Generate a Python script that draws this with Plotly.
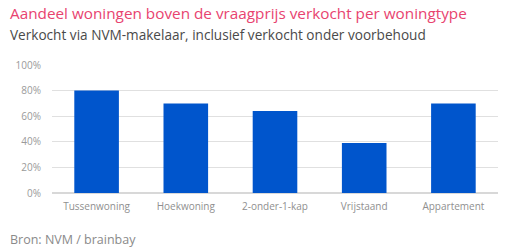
import plotly.graph_objects as go

categories = ["Tussenwoning", "Hoekwoning", "2-onder-1-kap", "Vrijstaand", "Appartement"]
values = [80, 70, 64, 39, 70]
y_ticks = [0, 20, 40, 60, 80, 100]
y_tick_labels = ["0%", "20%", "40%", "60%", "80%", "100%"]

title = "Aandeel woningen boven de vraagprijs verkocht per woningtype"
subtitle = "Verkocht via NVM-makelaar, inclusief verkocht onder voorbehoud"
source = "Bron: NVM / brainbay"

fig = go.Figure(go.Bar(
    x=categories, y=values,
    marker=dict(color="#0055cc", line=dict(width=0)),
    hoverinfo="skip",
))

font = "Open Sans"
fig.update_layout(
    width=510, height=252,
    margin=dict(l=52, r=12, t=65, b=59),
    paper_bgcolor="white", plot_bgcolor="white",
    bargap=0.5,
    showlegend=False,
    font=dict(family=font, color="#9a9a9a", size=10),
    xaxis=dict(showgrid=False, showline=False, ticks="", ticklabelstandoff=6,
               tickfont=dict(size=10, color="#8f8f8f")),
    yaxis=dict(range=[0, 100], tickvals=y_ticks, ticktext=y_tick_labels,
               gridcolor="#e0e0e0", gridwidth=1, zeroline=True, zerolinecolor="#d8d8d8",
               showline=False, ticks="", ticklabelstandoff=10,
               tickfont=dict(size=10, color="#9a9a9a")),
    annotations=[
        dict(text=title, xref="paper", yref="paper", x=0, y=0, xanchor="left", yanchor="top",
             showarrow=False, font=dict(family=font, size=15.3, color="#e8436f")),
        dict(text=subtitle, xref="paper", yref="paper", x=0, y=0, xanchor="left", yanchor="top",
             showarrow=False, font=dict(family=font, size=13.6, color="#4a4a4a")),
        dict(text=source, xref="paper", yref="paper", x=0, y=0, xanchor="left", yanchor="top",
             showarrow=False, font=dict(family=font, size=12.5, color="#8a8a8a")),
    ],
)
plot_h = 252 - 65 - 59
plot_left = 52
plot_w = 510 - 52 - 12
def px_to_paper(xp, yp):
    return (xp - plot_left) / plot_w, (252 - 59 - yp) / plot_h

for ann, (xp, yp) in zip(fig.layout.annotations, [(8, 1), (8, 23), (8, 229)]):
    ax, ay = px_to_paper(xp, yp)
    ann.x = ax
    ann.y = ay

fig.write_html("out.html")
